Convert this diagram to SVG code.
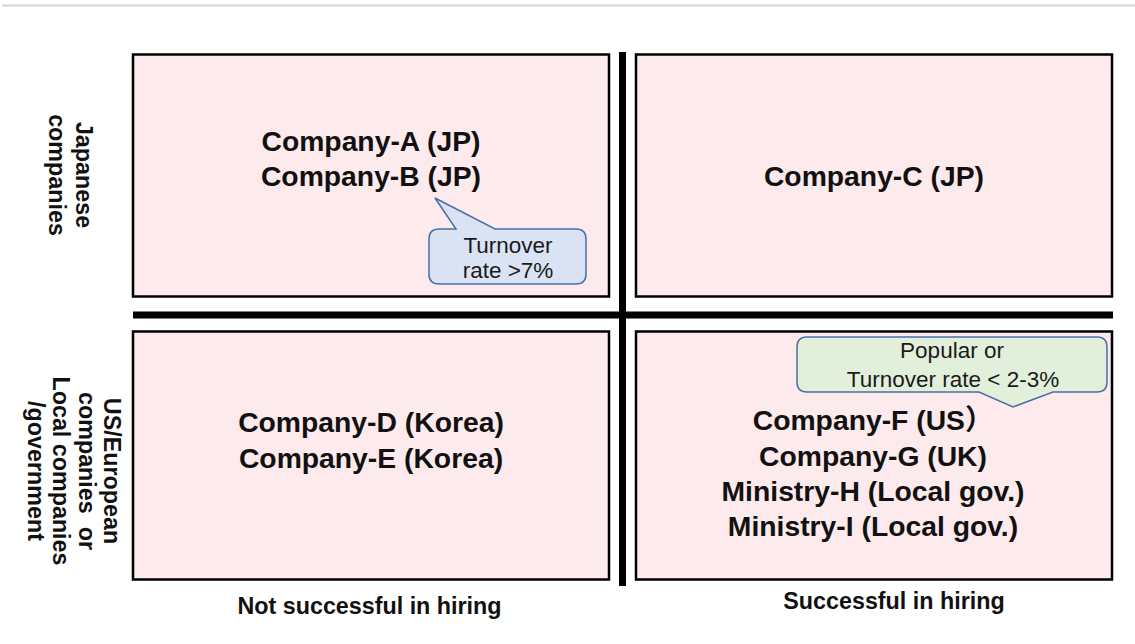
<svg xmlns="http://www.w3.org/2000/svg" width="1135" height="644" viewBox="0 0 1135 644">
<style>
.q{fill:#fdeaec;stroke:#000;stroke-width:2.5}
.co{font-family:"Liberation Sans",Arial,"Noto Sans CJK JP",sans-serif;font-weight:bold;font-size:28.3px;fill:#111;text-anchor:middle}
.ax{font-family:"Liberation Sans",Arial,sans-serif;font-weight:bold;font-size:23.3px;fill:#111;text-anchor:middle;white-space:pre}
.cl{font-family:"Liberation Sans",Arial,sans-serif;font-size:22.5px;fill:#1a1a1a;text-anchor:middle}
.axisline{stroke:#000;stroke-width:7}
</style>
<rect width="1135" height="644" fill="#fff"/>
<line x1="2" y1="5.5" x2="1135" y2="5.5" stroke="#dcdcdc" stroke-width="2.5"/>

<g id="q-top-left">
<rect class="q" x="133" y="54.5" width="476" height="242"/>
<text class="co" x="371" y="151">Company-A (JP)</text>
<text class="co" x="371" y="186">Company-B (JP)</text>
</g>
<g id="q-top-right">
<rect class="q" x="636" y="54.5" width="476" height="242"/>
<text class="co" x="874" y="186">Company-C (JP)</text>
</g>
<g id="q-bottom-left">
<rect class="q" x="133" y="331.5" width="476" height="248"/>
<text class="co" x="371" y="432">Company-D (Korea)</text>
<text class="co" x="371" y="468">Company-E (Korea)</text>
</g>
<g id="q-bottom-right">
<rect class="q" x="636" y="331.5" width="476" height="248"/>
<text class="co" x="873" y="430">Company-F (US）</text>
<text class="co" x="873" y="466">Company-G (UK)</text>
<text class="co" x="873" y="501">Ministry-H (Local gov.)</text>
<text class="co" x="873" y="536">Ministry-I (Local gov.)</text>
</g>

<g id="connectors">
<line class="axisline" x1="622.5" y1="52" x2="622.5" y2="586"/>
<line class="axisline" x1="133" y1="315" x2="1113" y2="315"/>
</g>

<g id="callout-turnover-high">
<path d="M440,229 L456,229 L435,198 L495,229 L576,229 Q586,229 586,239 L586,274 Q586,284 576,284 L439,284 Q429,284 429,274 L429,239 Q429,229 439,229 Z" fill="#dae3f3" stroke="#4a6fa5" stroke-width="1.5"/>
<text class="cl" x="508" y="252.5">Turnover</text>
<text class="cl" x="508" y="278">rate &gt;7%</text>
</g>
<g id="callout-popular">
<path d="M807,337 L1097,337 Q1107,337 1107,347 L1107,382 Q1107,392 1097,392 L1053,392 L1013,407 L979,392 L807,392 Q797,392 797,382 L797,347 Q797,337 807,337 Z" fill="#e2efda" stroke="#4a6fa5" stroke-width="1.5"/>
<text class="cl" x="952" y="358">Popular or</text>
<text class="cl" x="953" y="386.5">Turnover rate &lt; 2-3%</text>
</g>

<g id="label-japanese">
<text class="ax" transform="translate(76,175) rotate(90)"><tspan x="0" y="0">Japanese</tspan><tspan x="0" y="27">companies</tspan></text>
</g>
<g id="label-us-european">
<text class="ax" transform="translate(104,471) rotate(90)"><tspan x="0" y="0">US/European</tspan><tspan x="0" y="25.5">companies  or</tspan><tspan x="0" y="51">Local companies</tspan><tspan x="0" y="76.5">/government</tspan></text>
</g>
<g id="label-not-successful">
<text class="ax" x="369.5" y="614">Not successful in hiring</text>
</g>
<g id="label-successful">
<text class="ax" x="894" y="609">Successful in hiring</text>
</g>
</svg>
